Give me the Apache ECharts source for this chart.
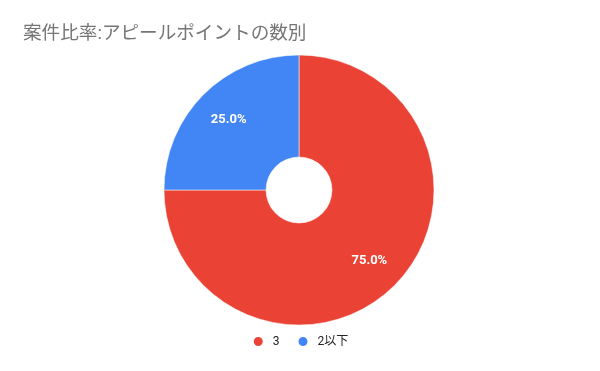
<!DOCTYPE html>
<html><head><meta charset="utf-8">
<script src="https://cdn.jsdelivr.net/npm/echarts@6/dist/echarts.min.js"></script>
<style>html,body{margin:0;padding:0;background:#fff}#c{width:600px;height:371px}</style>
</head><body><div id="c"></div>
<script>
const titleText = "案件比率:アピールポイントの数別";
const categories = ["3", "2以下"];
const values = [75, 25];
const colors = ["#EA4335", "#4285F4"];

const data = categories.map((c, i) => ({ name: c, value: values[i], itemStyle: { color: colors[i] } }));
const total = values.reduce((a, b) => a + b, 0);
const fontFam = "Roboto, 'Noto Sans CJK JP', sans-serif";

const chart = echarts.init(document.getElementById('c'), null, { renderer: 'canvas' });
chart.setOption({
  animation: false,
  backgroundColor: '#fff',
  title: {
    text: titleText, left: 18, top: 20,
    textStyle: { fontFamily: fontFam, fontSize: 18.6, fontWeight: 'normal', color: '#757575' }
  },
  legend: {
    data: categories, bottom: 18, left: 'center', icon: 'circle',
    itemWidth: 11, itemHeight: 11, itemGap: 17,
    textStyle: { fontFamily: fontFam, fontSize: 12, color: '#222', padding: [0, 0, 0, 4] }
  },
  series: [
    {
      type: 'pie', center: [299, 190], radius: [33, 135], startAngle: 90,
      clockwise: true, silent: true,
      itemStyle: { borderColor: '#fff', borderWidth: 0.5 },
      label: { show: false }, labelLine: { show: false },
      data: data
    },
    {
      type: 'pie', center: [299, 190], radius: [0, 193], startAngle: 90,
      clockwise: true, silent: true,
      itemStyle: { color: 'rgba(0,0,0,0)' },
      label: {
        show: true, position: 'inside',
        formatter: p => (p.value / total * 100).toFixed(1) + '%',
        fontFamily: fontFam, fontSize: 13, fontWeight: 'bold', color: '#fff'
      },
      labelLine: { show: false },
      data: categories.map((c, i) => ({ name: c, value: values[i] }))
    }
  ]
});
</script></body></html>
